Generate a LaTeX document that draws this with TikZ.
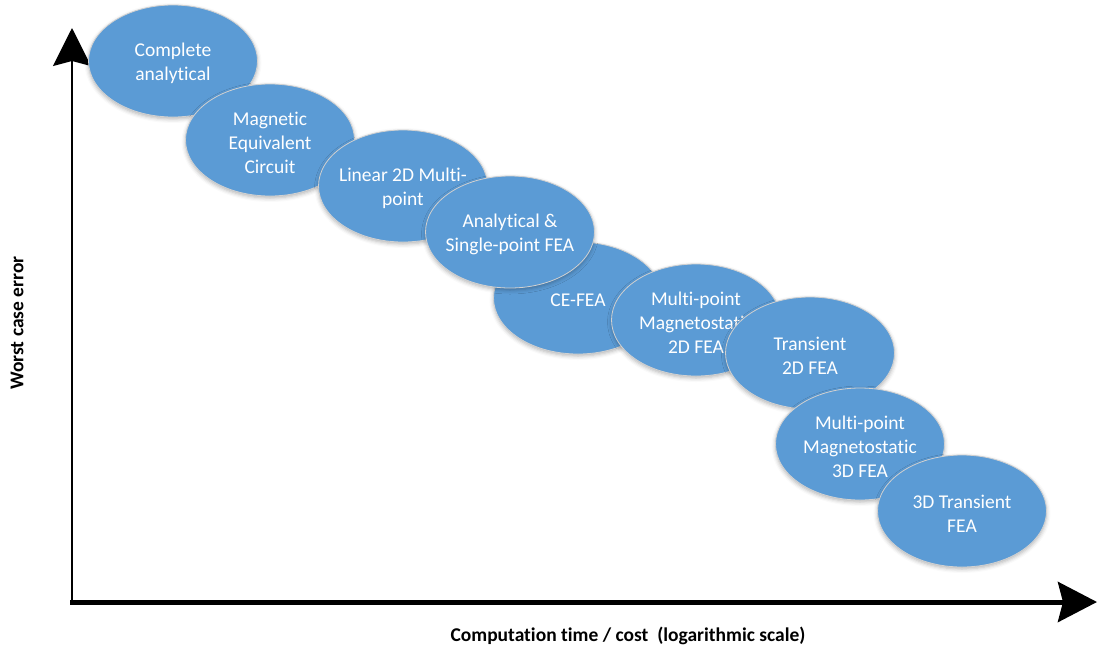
\documentclass[tikz,border=0pt]{standalone}
\usepackage{fontspec}
\setmainfont{Carlito}[Ligatures=CommonOff]
\usetikzlibrary{shapes.geometric,arrows.meta,shadows.blur}
\definecolor{ovalblue}{HTML}{5B9BD5}
\begin{document}
\begin{tikzpicture}[x=1pt,y=-1pt,
  oval/.style={ellipse, fill=ovalblue, draw=black!18, line width=0.8pt,
    minimum width=169pt, minimum height=112pt, inner sep=0pt,
    blur shadow={shadow xshift=0pt, shadow yshift=-2pt,
      shadow blur radius=4pt, shadow opacity=30},
    label={[ovaltext]center:{#1}}},
  ovaltext/.style={align=center, text=white, inner sep=0pt, yshift=-2.5pt,
    font=\fontsize{19.5}{24}\selectfont},
  axislabel/.style={font=\bfseries\fontsize{19.5}{23}\selectfont}]
\useasboundingbox (0,0) rectangle (1100,649);

% axes
\coordinate (ybase) at (72,604);
\coordinate (ytop) at (72,28);
\coordinate (xbase) at (70,602);
\coordinate (xend) at (1097,602);
\draw[line width=1.3pt, -{Stealth[length=38pt,width=38pt,inset=5pt]}] (ybase) -- (ytop);
\draw[line width=5pt, -{Stealth[length=39pt,width=40pt,inset=5pt]}] (xbase) -- (xend);

% methods, from cheapest to most expensive (later ovals overlap earlier ones)
\node[oval={Complete\\analytical}]              (ca)  at (173,61)  {};
\node[oval={Magnetic\\Equivalent\\Circuit}]     (mec) at (270,140) {};
\node[oval={Linear 2D Multi-\\point}]           (l2d) at (403,186) {};
\node[oval={CE-FEA}]                            (ce)  at (578,298) {};
\node[oval={Analytical \&\\Single-point FEA}]   (asp) at (510,232) {};
\node[oval={Multi-point\\Magnetostatic\\2D FEA}] (m2d) at (696,320) {};
\node[oval={Transient\\2D FEA}]                 (t2d) at (810,353) {};
\node[oval={Multi-point\\Magnetostatic\\3D FEA}] (m3d) at (860,444) {};
\node[oval={3D Transient\\FEA}]                 (t3d) at (962,511) {};

% axis labels
\node[axislabel] (xlab) at (628,636) {Computation time / cost\ \ (logarithmic scale)};
\node[axislabel, rotate=90] (ylab) at (17,323) {Worst case error};
\end{tikzpicture}
\end{document}
